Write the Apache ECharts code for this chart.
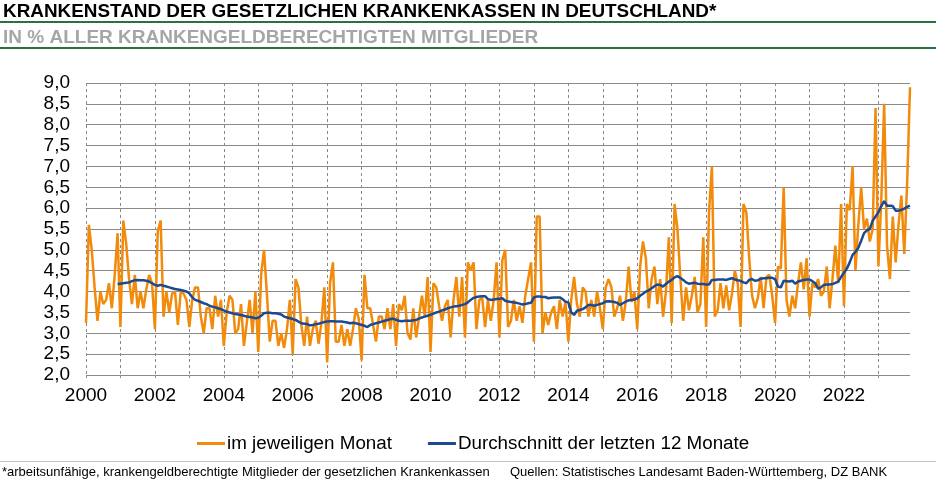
<!DOCTYPE html>
<html><head><meta charset="utf-8">
<script src="https://cdn.jsdelivr.net/npm/echarts@6/dist/echarts.min.js"></script>
<style>html,body{margin:0;padding:0;background:#fff}#c{width:936px;height:487px}</style>
</head><body><div id="c"></div>
<script>
const years = [2000,2001,2002,2003,2004,2005,2006,2007,2008,2009,2010,2011,2012,2013,2014,2015,2016,2017,2018,2019,2020,2021,2022,2023];
const yearTicks = ['2000','2002','2004','2006','2008','2010','2012','2014','2016','2018','2020','2022'];
const seriesNames = ['im jeweiligen Monat', 'Durchschnitt der letzten 12 Monate'];

// im jeweiligen Monat (Jan..Dec per line)
const monthly = [
  3.25,5.6,5.0,4.1,3.3,4.0,3.7,3.8,4.2,3.6,4.4,5.4,
  3.15,5.7,5.15,4.3,3.7,4.4,3.6,4.0,3.6,4.05,4.4,4.2,
  3.1,5.45,5.7,3.4,4.0,3.5,3.95,4.0,3.2,4.0,3.95,3.8,
  3.15,3.8,4.1,4.1,3.4,3.0,3.6,3.6,3.1,3.9,3.4,3.8,
  2.7,3.5,3.9,3.8,3.0,3.1,3.7,2.7,3.25,3.8,3.0,4.0,
  2.55,4.4,5.0,3.95,2.8,3.3,3.3,2.7,3.0,2.65,3.1,3.8,
  2.5,4.3,4.1,3.2,2.7,3.4,2.7,3.1,3.3,2.75,3.25,4.1,
  2.3,4.2,4.7,2.8,2.8,3.2,2.7,3.1,2.7,3.1,3.6,3.35,
  2.35,4.4,3.6,3.6,3.2,2.8,3.4,3.4,3.1,3.6,3.1,3.7,
  2.7,3.7,3.55,3.9,3.0,2.85,3.6,2.9,3.4,3.9,3.4,4.35,
  2.55,4.2,4.1,3.65,3.3,3.65,3.8,2.9,3.8,4.35,3.4,4.35,
  2.9,4.7,4.5,4.7,3.1,3.8,3.85,3.15,3.8,3.3,3.8,4.7,
  2.9,4.75,5.0,3.15,3.3,3.8,3.3,3.65,3.25,3.9,4.3,4.7,
  2.8,5.8,5.8,3.0,3.5,3.2,3.5,3.65,3.1,3.8,3.4,3.75,
  2.8,3.8,4.35,3.7,3.4,4.1,4.0,3.4,3.8,3.4,4.0,3.6,
  3.1,4.1,4.3,4.1,3.4,3.6,3.9,3.3,3.75,4.6,3.75,4.0,
  3.1,4.6,5.2,4.8,3.6,4.3,4.6,3.7,4.3,3.4,4.0,5.3,
  3.25,6.1,5.5,4.35,3.3,4.1,3.55,3.9,4.35,3.5,3.7,5.3,
  3.15,5.9,7.0,3.4,3.55,4.2,3.6,4.15,3.55,3.95,4.5,4.2,
  3.15,6.1,5.9,4.8,3.9,3.6,3.85,4.35,3.6,4.35,4.4,3.9,
  3.25,4.6,4.55,6.5,3.8,3.4,3.9,3.6,4.2,4.7,4.05,4.8,
  3.4,4.2,4.1,4.3,3.9,4.0,4.6,3.6,4.3,5.1,4.2,6.1,
  3.65,6.1,5.95,7.0,4.5,5.6,6.5,5.5,5.75,5.2,5.5,8.4,
  4.6,6.2,8.5,5.1,4.3,5.8,4.7,5.6,6.3,4.9,6.6,8.9
];

// Durchschnitt der letzten 12 Monate (Jan..Dec per line)
const average12 = [
  null,null,null,null,null,null,null,null,null,null,null,4.18,
  4.19,4.2,4.21,4.22,4.25,4.27,4.28,4.27,4.27,4.26,4.24,4.2,
  4.16,4.14,4.16,4.14,4.12,4.1,4.08,4.06,4.05,4.04,4.02,4.0,
  3.96,3.86,3.8,3.78,3.75,3.72,3.7,3.66,3.64,3.62,3.6,3.58,
  3.55,3.52,3.5,3.48,3.46,3.45,3.44,3.42,3.4,3.39,3.38,3.36,
  3.37,3.42,3.48,3.49,3.49,3.48,3.48,3.47,3.45,3.4,3.38,3.36,
  3.34,3.32,3.28,3.24,3.23,3.22,3.19,3.2,3.22,3.23,3.25,3.27,
  3.28,3.29,3.29,3.28,3.28,3.28,3.27,3.26,3.24,3.25,3.24,3.22,
  3.2,3.18,3.15,3.2,3.22,3.24,3.26,3.28,3.3,3.32,3.34,3.35,
  3.32,3.3,3.29,3.3,3.3,3.3,3.31,3.32,3.35,3.38,3.4,3.42,
  3.44,3.47,3.5,3.52,3.55,3.57,3.6,3.62,3.64,3.65,3.66,3.68,
  3.7,3.74,3.8,3.85,3.87,3.88,3.89,3.89,3.82,3.8,3.81,3.82,
  3.83,3.84,3.78,3.76,3.75,3.74,3.73,3.71,3.69,3.7,3.72,3.73,
  3.86,3.88,3.88,3.87,3.87,3.84,3.85,3.86,3.86,3.86,3.82,3.76,
  3.74,3.5,3.44,3.54,3.56,3.58,3.62,3.68,3.68,3.66,3.68,3.7,
  3.72,3.76,3.77,3.76,3.75,3.73,3.68,3.72,3.76,3.79,3.8,3.81,
  3.84,3.9,3.95,4.0,4.03,4.08,4.13,4.17,4.16,4.12,4.18,4.24,
  4.28,4.34,4.37,4.33,4.28,4.22,4.19,4.2,4.21,4.19,4.18,4.18,
  4.17,4.17,4.28,4.28,4.29,4.29,4.29,4.28,4.3,4.32,4.29,4.27,
  4.26,4.22,4.2,4.28,4.3,4.26,4.27,4.31,4.32,4.32,4.33,4.33,
  4.3,4.12,4.1,4.26,4.25,4.24,4.26,4.19,4.24,4.26,4.28,4.29,
  4.29,4.25,4.2,4.07,4.1,4.16,4.17,4.17,4.18,4.21,4.24,4.35,
  4.45,4.55,4.7,4.88,4.95,5.05,5.22,5.4,5.47,5.5,5.7,5.8,
  5.9,6.05,6.17,6.06,6.06,6.05,5.94,5.94,5.96,5.99,6.03,6.06
];

const categories = [];
years.forEach(function (y) { for (let m = 1; m <= 12; m++) categories.push(y + '-' + (m < 10 ? '0' : '') + m); });

const FONT = "'Liberation Sans',Arial,sans-serif";
const GREEN = '#2a7040';

const chart = echarts.init(document.getElementById('c'), null, {renderer: 'canvas'});
chart.setOption({
  animation: false,
  backgroundColor: '#fff',
  grid: {left: 86, right: 26, top: 83, bottom: 112, containLabel: false},
  legend: {
    data: seriesNames,
    left: 192, top: 429,
    icon: 'rect', itemWidth: 28, itemHeight: 3, itemGap: 36,
    textStyle: {fontFamily: FONT, fontSize: 18.8, color: '#000', padding: [0, 0, 0, -3]}
  },
  xAxis: {
    type: 'category', data: categories, boundaryGap: false,
    axisLine: {show: false},
    axisTick: {show: true, length: 5, interval: function (i) { return i % 12 === 0; }, lineStyle: {color: '#888', type: [3, 3]}},
    axisLabel: {
      interval: function (i) { return i % 24 === 0; },
      formatter: function (v) { const y = v.slice(0, 4); return yearTicks.indexOf(y) >= 0 ? y : ''; },
      fontFamily: FONT, fontSize: 19, color: '#000', margin: 11
    },
    splitLine: {show: true, interval: function (i) { return i % 12 === 0; }, lineStyle: {color: '#8a8a8a', type: [3, 3], width: 1}}
  },
  yAxis: {
    type: 'value', min: 2, max: 9, interval: 0.5,
    axisLine: {show: false}, axisTick: {show: false},
    axisLabel: {formatter: function (v) { return v.toFixed(1).replace('.', ','); }, fontFamily: FONT, fontSize: 19, color: '#000', margin: 16},
    splitLine: {lineStyle: {color: '#8a8a8a', width: 1}}
  },
  series: [
    {name: seriesNames[0], type: 'line', data: monthly, symbol: 'none', lineStyle: {color: '#f28a0a', width: 2.5}, itemStyle: {color: '#f28a0a'}, z: 2},
    {name: seriesNames[1], type: 'line', data: average12, symbol: 'none', connectNulls: false, lineStyle: {color: '#1b4a92', width: 2.5}, itemStyle: {color: '#1b4a92'}, z: 3}
  ],
  graphic: [
    {type: 'text', left: 3, top: 2, style: {text: 'KRANKENSTAND DER GESETZLICHEN KRANKENKASSEN IN DEUTSCHLAND*', font: "bold 18.9px " + FONT, fill: '#000'}},
    {type: 'rect', shape: {x: 0, y: 21, width: 936, height: 2}, style: {fill: GREEN}},
    {type: 'text', left: 3, top: 28, style: {text: 'IN % ALLER KRANKENGELDBERECHTIGTEN MITGLIEDER', font: "bold 19px " + FONT, fill: '#a6a6a6'}},
    {type: 'rect', shape: {x: 0, y: 47, width: 936, height: 2}, style: {fill: GREEN}},
    {type: 'rect', shape: {x: 0, y: 461, width: 936, height: 1}, style: {fill: '#c8c8c8'}},
    {type: 'text', left: 2, top: 466, style: {text: '*arbeitsunfähige, krankengeldberechtigte Mitglieder der gesetzlichen Krankenkassen', font: "13px " + FONT, fill: '#000'}},
    {type: 'text', left: 510, top: 466, style: {text: 'Quellen: Statistisches Landesamt Baden-Württemberg, DZ BANK', font: "13px " + FONT, fill: '#000'}}
  ]
});
</script></body></html>
